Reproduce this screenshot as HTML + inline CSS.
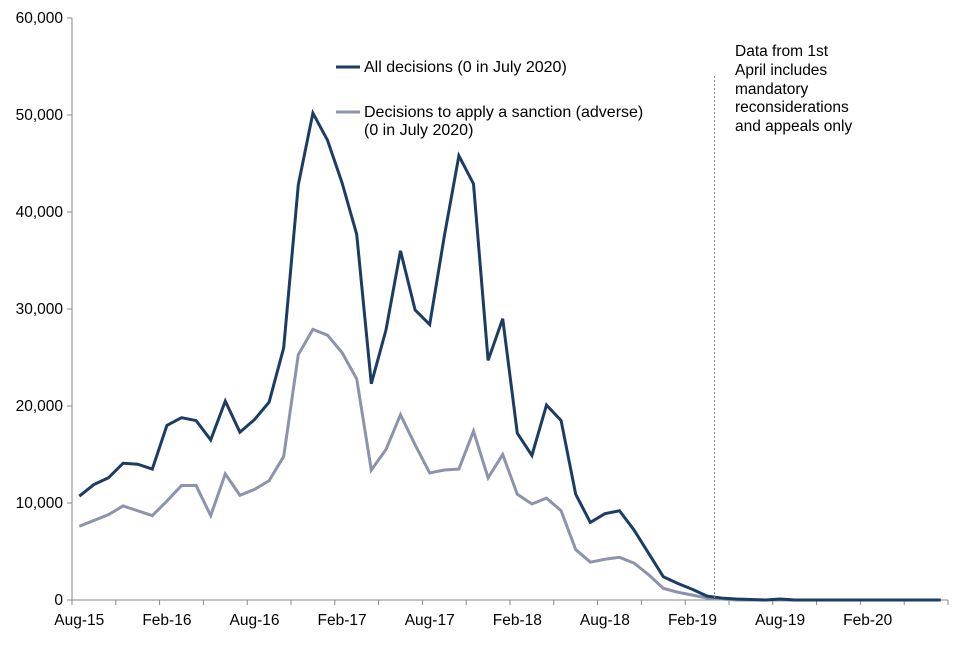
<!DOCTYPE html>
<html><head><meta charset="utf-8"><style>
body{margin:0;background:#fff}
svg text{font-family:"Liberation Sans",Arial,sans-serif;font-size:15.5px;fill:#000}
</style></head><body>
<svg width="960" height="640">
<g id="axes"></g><g id="series"></g>
<g style="font-size:16px">
<line x1="336" y1="67" x2="360" y2="67" stroke="#1b3d63" stroke-width="3"/>
<text x="364" y="72" style="font-size:16px">All decisions (0 in July 2020)</text>
<line x1="336" y1="112" x2="360" y2="112" stroke="#8d93ad" stroke-width="3"/>
<text x="364" y="117" style="font-size:16px">Decisions to apply a sanction (adverse)</text>
<text x="364" y="135" style="font-size:16px">(0 in July 2020)</text>
</g>
<line x1="714.5" y1="76" x2="714.5" y2="600" stroke="#888" stroke-width="1" stroke-dasharray="2,2"/>
<g>
<text x="735" y="56">Data from 1st</text>
<text x="735" y="75">April includes</text>
<text x="735" y="94">mandatory</text>
<text x="735" y="112">reconsiderations</text>
<text x="735" y="131">and appeals only</text>
</g>
</svg>
<script>
const months = 60;
const tickLabels = ["Aug-15","Feb-16","Aug-16","Feb-17","Aug-17","Feb-18","Aug-18","Feb-19","Aug-19","Feb-20"];
const yTicks = [0,10000,20000,30000,40000,50000,60000];
const allDecisions = [10700,11900,12600,14100,14000,13500,18000,18800,18500,16500,20500,17300,18600,20400,26000,42800,50200,47400,43000,37700,22300,27800,36000,29900,28400,37500,45800,42900,24700,29000,17200,14900,20100,18500,10900,8000,8900,9200,7200,4800,2400,1700,1100,400,200,100,50,0,100,0,0,0,0,0,0,0,0,0,0,0];
const adverse = [7600,8200,8800,9700,9200,8700,10200,11800,11800,8700,13000,10800,11400,12300,14800,25300,27900,27300,25500,22800,13400,15500,19100,16000,13100,13400,13500,17400,12600,15000,10900,9900,10500,9200,5200,3900,4200,4400,3800,2600,1200,800,500,200,100,0,0,0,0,0,0,0,0,0,0,0,0,0,0,0];
const NS="http://www.w3.org/2000/svg";
const X0=72,X1=948,Y0=600,Y1=18,YMAX=60000;
const step=(X1-X0)/months;
const xc=i=>X0+step*(i+0.5);
const yv=v=>Y0-(v/YMAX)*(Y0-Y1);
function mk(tag,attrs,parent){const e=document.createElementNS(NS,tag);for(const k in attrs)e.setAttribute(k,attrs[k]);parent.appendChild(e);return e;}
const ax=document.getElementById('axes');
const yAxis=mk('line',{x1:X0,y1:Y1,x2:X0,y2:Y0,stroke:'#888'},ax);


const xAxis=mk('line',{x1:X0,y1:Y0,x2:X1,y2:Y0,stroke:'#888'},ax);


yTicks.forEach(v=>{
  mk('line',{x1:X0-5,y1:yv(v),x2:X0,y2:yv(v),stroke:'#888'},ax);
  const t=mk('text',{x:X0-9,y:yv(v)+5,'text-anchor':'end'},ax);
  t.textContent=v.toLocaleString('en-GB');
  
  
});
for(let i=0;i<=months;i+=3){mk('line',{x1:X0+step*i,y1:Y0,x2:X0+step*i,y2:Y0+5,stroke:'#888'},ax);}
tickLabels.forEach((l,k)=>{
  const t=mk('text',{x:xc(k*6),y:625,'text-anchor':'middle'},ax);
  t.textContent=l;
  
  
});
const sg=document.getElementById('series');
function line(data,color,name){
  const p=mk('polyline',{points:data.map((v,i)=>xc(i)+','+yv(v)).join(' '),fill:'none',stroke:color,'stroke-width':3,'stroke-linejoin':'miter'},sg);
  
  
}
line(adverse,'#8d93ad','adverse-decisions-line');
line(allDecisions,'#1b3d63','all-decisions-line');
</script>
</body></html>
